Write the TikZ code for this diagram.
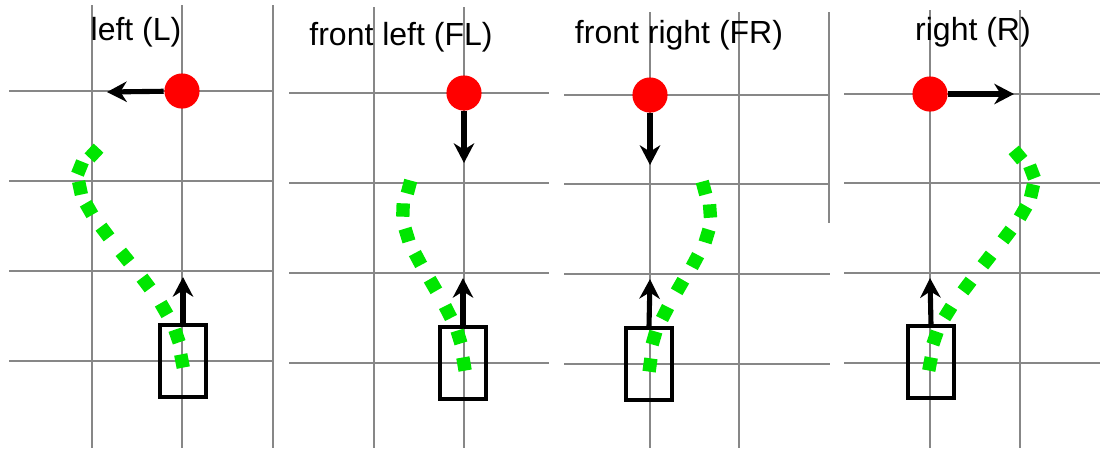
\documentclass[tikz,border=0pt]{standalone}
\usepackage{fontspec}
\setmainfont{Liberation Sans}
\usetikzlibrary{arrows.meta}
\definecolor{dotgreen}{RGB}{0,230,0}
\definecolor{gridgray}{RGB}{135,135,135}
\begin{document}
\begin{tikzpicture}[x=0.01cm,y=-0.01cm,
  grid/.style={gridgray, line width=0.3pt},
  target/.style={circle, fill=red, minimum size=10pt, inner sep=0pt},
  car/.style={draw=black, line width=1.05pt, minimum width=13.1pt, minimum height=20.3pt, inner sep=0pt},
  heading/.style={-{Stealth[length=5.6pt, width=5.8pt, inset=1.8pt]}, line width=1.45pt},
  trace/.style={fill=dotgreen, minimum size=3.8pt, inner sep=0pt},
  title/.style={font=\fontsize{9.1pt}{11pt}\selectfont, anchor=base}]
\useasboundingbox (0,0) rectangle (1100,450);

% ---------- left (L) ----------
\foreach \y in {91,181,271,361} \draw[grid] (9,\y) -- (274,\y);
\foreach \x in {92,182,273} \draw[grid] (\x,5) -- (\x,448);
\node[title] (hL) at (136,40) {left (L)};
\node[target] (dL) at (182,91) {};
\coordinate (aL) at (107,92);
\draw[heading] (dL) -- (aL);
\node[car] (cL) at (183,361) {};
\coordinate (vL) at (183,277);
\draw[heading] (cL.north) -- (vL);
\foreach \x/\y/\a [count=\i] in {182/361/11, 177/336/19, 164/309/30, 146/283/37,
    125/257/39, 105/232/37, 89/209/30, 80/188/12, 80/168/68, 94/153/47}
  \node[trace, rotate=\a] (tL\i) at (\x,\y) {};

% ---------- front left (FL) ----------
\foreach \y in {93,183,273,363} \draw[grid] (289,\y) -- (549,\y);
\foreach \x in {374,464} \draw[grid] (\x,7) -- (\x,448);
\node[title] (hFL) at (401,45) {front left (FL)};
\node[target] (dFL) at (464,93) {};
\coordinate (aFL) at (464,163);
\draw[heading] (dFL) -- (aFL);
\node[car] (cFL) at (463,363) {};
\coordinate (vFL) at (463,278);
\draw[heading] (cFL.north) -- (vFL);
\foreach \x/\y/\a [count=\i] in {464/364/10, 459/337/17, 448/312/27, 433/285/30,
    418/259/28, 407/235/17, 403/210/88, 409/187/75}
  \node[trace, rotate=\a] (tFL\i) at (\x,\y) {};

% ---------- front right (FR) ----------
\foreach \y in {95,184,274,364} \draw[grid] (564,\y) -- (830,\y);
\foreach \x in {650,739} \draw[grid] (\x,12) -- (\x,448);
\draw[grid] (829,12) -- (829,223);
\node[title] (hFR) at (679,43) {front right (FR)};
\node[target] (dFR) at (650,95) {};
\coordinate (aFR) at (650,165);
\draw[heading] (dFR) -- (aFR);
\node[car] (cFR) at (649,364) {};
\coordinate (vFR) at (650,279);
\draw[heading] (cFR.north) -- (vFR);
\foreach \x/\y/\a [count=\i] in {650/365/82, 654/338/74, 665/313/63, 680/286/60,
    695/261/62, 707/236/73, 710/211/4, 704/188/15}
  \node[trace, rotate=\a] (tFR\i) at (\x,\y) {};

% ---------- right (R) ----------
\foreach \y in {94,183,273,363} \draw[grid] (844,\y) -- (1100,\y);
\foreach \x in {930,1020} \draw[grid] (\x,10) -- (\x,448);
\node[title] (hR) at (973,40) {right (R)};
\node[target] (dR) at (930,94) {};
\coordinate (aR) at (1014,94);
\draw[heading] (dR) -- (aR);
\node[car] (cR) at (931,362) {};
\coordinate (vR) at (930,278);
\draw[heading] (cR.north) -- (vR);
\foreach \x/\y/\a [count=\i] in {930/364/79, 935/338/71, 948/312/58, 967/286/53,
    987/260/52, 1007/235/53, 1023/212/60, 1032/191/77, 1032/172/21, 1018/155/40}
  \node[trace, rotate=\a] (tR\i) at (\x,\y) {};
\end{tikzpicture}
\end{document}
